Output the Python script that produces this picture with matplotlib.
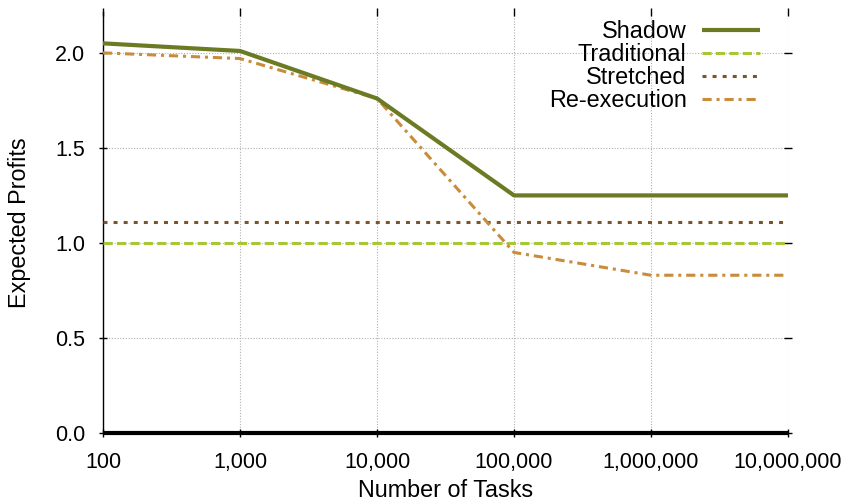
import matplotlib
matplotlib.use("Agg")
import matplotlib.pyplot as plt
from matplotlib.ticker import FixedLocator, FuncFormatter, NullLocator

tasks = [100, 1000, 10000, 100000, 1000000, 10000000]
shadow = [2.05, 2.01, 1.76, 1.25, 1.25, 1.25]
traditional = [1.0, 1.0, 1.0, 1.0, 1.0, 1.0]
stretched = [1.11, 1.11, 1.11, 1.11, 1.11, 1.11]
reexecution = [2.0, 1.97, 1.76, 0.95, 0.83, 0.83]
x_ticks = [100, 1000, 10000, 100000, 1000000, 10000000]
y_ticks = [0.0, 0.5, 1.0, 1.5, 2.0]

plt.rcParams['font.family'] = ['Liberation Sans', 'DejaVu Sans']
fs_tick = 15.5
fs_lab = 16.8

fig = plt.figure(figsize=(8.48, 5.04), dpi=100)
ax = fig.add_axes([103/848, 1-433/504, (788-103)/848, (433-12)/504])

lw_main = 2.2
ax.plot(tasks, shadow, color='#6b7b23', lw=3.0, label='Shadow', solid_capstyle='butt', zorder=5)
ax.plot(tasks, traditional, color='#a6c736', lw=lw_main, dashes=(3, 1.4), label='Traditional', zorder=4)
ax.plot(tasks, stretched, color='#7c5429', lw=lw_main, dashes=(1.3, 2.0), label='Stretched', zorder=4)
ax.plot(tasks, reexecution, color='#c98b3c', lw=lw_main, dashes=(3, 1.6, 1, 1.6), label='Re-execution', zorder=4)

ax.set_xscale('log')
ax.set_xlim(100, 10000000)
ax.set_ylim(0, 2.215)
ax.xaxis.set_major_locator(FixedLocator(x_ticks))
ax.xaxis.set_minor_locator(NullLocator())
ax.xaxis.set_major_formatter(FuncFormatter(lambda v, p: f"{int(round(v)):,}"))
ax.yaxis.set_major_locator(FixedLocator(y_ticks))
ax.yaxis.set_major_formatter(FuncFormatter(lambda v, p: f"{v:.1f}"))

ax.grid(True, which='major', color='#b0b0b0', linestyle=(0, (1, 1.5)), linewidth=0.8)
ax.set_axisbelow(True)

ax.spines['top'].set_visible(False)
ax.spines['right'].set_visible(False)
ax.spines['left'].set_linewidth(1.0)
ax.spines['bottom'].set_linewidth(3.0)
ax.spines['bottom'].set_capstyle('butt')

ax.tick_params(axis='both', which='major', direction='inout', length=6, width=1.0,
               labelsize=fs_tick, top=True, right=True, color='black')
ax.tick_params(axis='x', pad=11)
ax.tick_params(axis='y', pad=10)

ax.set_xlabel('Number of Tasks', fontsize=fs_lab, labelpad=4)
ax.set_ylabel('Expected Profits', fontsize=fs_lab, labelpad=17)

leg = ax.legend(loc='upper right', bbox_to_anchor=(0.959, 0.98), frameon=False,
                fontsize=fs_lab, markerfirst=False, handlelength=2.5, handletextpad=0.64,
                labelspacing=0.0, borderpad=0, borderaxespad=0)
for t in leg.get_texts():
    t.set_ha('right')

fig.savefig('out.png', dpi=100)
